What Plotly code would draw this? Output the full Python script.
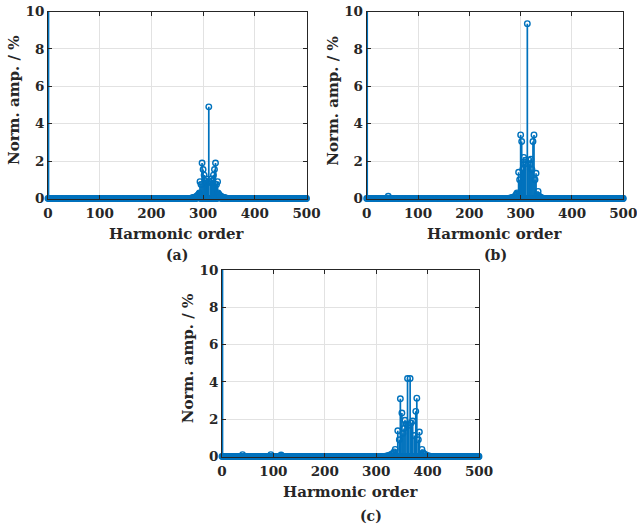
import plotly.graph_objects as go

# ---- spectrum data (harmonic order -> normalised amplitude, % of fundamental) ----
N_HARM = 500

a_orders = [1, 278, 280, 282, 284, 286, 288, 289, 290, 291, 292, 293,
            294, 296, 298, 300, 302, 304, 306, 308,
            311,
            314, 316, 318, 320, 322, 324, 326, 328,
            329, 330, 331, 332, 333, 334, 336, 338, 340, 342, 344]
a_amps = [100, 0.03, 0.04, 0.05, 0.07, 0.09, 0.12, 0.14, 0.17, 0.2, 0.24, 0.3,
          0.9, 0.75, 1.9, 1.55, 1.25, 0.95, 1.05, 0.85,
          4.9,
          0.85, 1.05, 0.95, 1.25, 1.55, 1.9, 0.75, 0.9,
          0.3, 0.24, 0.2, 0.17, 0.14, 0.12, 0.09, 0.07, 0.05, 0.04, 0.03]

b_orders = [1, 42, 280, 283, 286, 288, 290, 291, 292, 293,
            296, 298, 300, 302, 304, 306, 308, 310,
            313,
            316, 318, 320, 322, 324, 326, 328, 330,
            332, 334, 336, 338, 341]
b_amps = [100, 0.12, 0.03, 0.05, 0.07, 0.1, 0.14, 0.18, 0.24, 0.3,
          1.4, 1.0, 3.4, 3.05, 1.55, 2.2, 1.85, 2.05,
          9.35,
          2.05, 1.85, 2.1, 1.55, 3.05, 3.4, 1.0, 1.35,
          0.2, 0.38, 0.12, 0.08, 0.04]

c_orders = [1, 40, 95, 115, 320, 324, 327, 330, 333, 335,
            337, 342, 345, 347, 350, 352, 354, 356, 358,
            361, 363, 366,
            368, 371, 374, 377, 379, 382, 384, 389,
            391, 393, 396, 399, 403]
c_amps = [100, 0.1, 0.1, 0.08, 0.03, 0.05, 0.08, 0.12, 0.18, 0.25,
          0.38, 1.38, 0.9, 3.1, 2.33, 1.25, 1.5, 1.94, 1.75,
          4.18, 1.67, 4.18,
          1.8, 1.9, 1.13, 2.42, 3.13, 0.9, 1.31, 0.38,
          0.2, 0.15, 0.1, 0.06, 0.03]

x_ticks = [0, 100, 200, 300, 400, 500]
y_ticks = [0, 2, 4, 6, 8, 10]

X_LABEL = "Harmonic order"
Y_LABEL = "Norm. amp. / %"
PANEL_TAGS = ["(a)", "(b)", "(c)"]

# ---- styling ----
W, H = 637, 529
BLUE = "#0072BD"
AXIS_COL = "#262626"
GRID_COL = "#e2e2e2"
FONT = "DejaVu Serif"


def px_x(p):
    return p / W


def px_y(p):
    return 1 - p / H


def spectrum(orders, amps):
    y = [0.0] * (N_HARM + 1)
    for h, v in zip(orders, amps):
        y[h] = v
    return list(range(N_HARM + 1)), y


# plot-area boxes in pixels: left, right, top, bottom
boxes = [
    (48.0, 306.5, 11.5, 198.5),
    (366.7, 623.3, 11.5, 198.5),
    (222.0, 479.0, 270.0, 456.5),
]
series = [(a_orders, a_amps), (b_orders, b_amps), (c_orders, c_amps)]

fig = go.Figure()

for i, ((orders, amps), box) in enumerate(zip(series, boxes)):
    n = "" if i == 0 else str(i + 1)
    xr, yr = "x" + n, "y" + n
    hx, hy = spectrum(orders, amps)

    # stems
    sx, sy = [], []
    for h, v in zip(hx, hy):
        if v > 0:
            sx += [h, h, None]
            sy += [0, v, None]
    fig.add_trace(go.Scatter(x=sx, y=sy, mode="lines", xaxis=xr, yaxis=yr,
                             line=dict(color=BLUE, width=1.7),
                             showlegend=False, hoverinfo="skip"))
    # baseline
    fig.add_trace(go.Scatter(x=[0, N_HARM], y=[0, 0], mode="lines",
                             xaxis=xr, yaxis=yr,
                             line=dict(color=AXIS_COL, width=1),
                             showlegend=False, hoverinfo="skip"))
    # open-circle stem heads (only those inside the visible range)
    mx = [h for h, v in zip(hx, hy) if v <= 10]
    my = [v for v in hy if v <= 10]
    fig.add_trace(go.Scatter(x=mx, y=my, mode="markers", xaxis=xr, yaxis=yr,
                             cliponaxis=False,
                             marker=dict(symbol="circle-open", size=5.5,
                                         color=BLUE, line=dict(width=1.4)),
                             showlegend=False, hoverinfo="skip"))

    l, r, t, b = box
    axis_common = dict(
        automargin=False, ticklabeloverflow="allow",
        showline=True, linecolor=AXIS_COL, linewidth=1, mirror="ticks",
        ticks="inside", ticklen=4, tickcolor=AXIS_COL, tickwidth=1,
        showgrid=True, gridcolor=GRID_COL, gridwidth=1, zeroline=False,
        tickfont=dict(family=FONT, size=13.5, color=AXIS_COL, weight="bold"),
    )
    fig.layout["xaxis" + n] = dict(
        axis_common, domain=[px_x(l), px_x(r)], range=[0, N_HARM],
        tickvals=x_ticks, anchor=yr, ticklabelstandoff=2,
    )
    fig.layout["yaxis" + n] = dict(
        axis_common, domain=[px_y(b), px_y(t)], range=[0, 10],
        tickvals=y_ticks, anchor=xr,
    )

    cx = (l + r) / 2
    cy = (t + b) / 2
    fig.add_annotation(text=X_LABEL, xref="paper", yref="paper",
                       x=px_x(cx), y=px_y(b + 35), showarrow=False,
                       font=dict(family=FONT, size=15, color=AXIS_COL, weight="bold"),
                       xanchor="center", yanchor="middle")
    fig.add_annotation(text=Y_LABEL, xref="paper", yref="paper",
                       x=px_x(l - 34), y=px_y(cy - 4), showarrow=False, textangle=-90,
                       font=dict(family=FONT, size=15, color=AXIS_COL, weight="bold"),
                       xanchor="center", yanchor="middle")

tag_pos = [(177, 255), (495, 255), (371, 516)]
for tag, (tx, ty) in zip(PANEL_TAGS, tag_pos):
    fig.add_annotation(text=tag, xref="paper", yref="paper",
                       x=px_x(tx), y=px_y(ty), showarrow=False,
                       font=dict(family=FONT, size=14, color=AXIS_COL, weight="bold"),
                       xanchor="center", yanchor="middle")

fig.update_layout(
    width=W, height=H,
    margin=dict(l=0, r=0, t=0, b=0),
    paper_bgcolor="white", plot_bgcolor="white",
)

fig.write_html("out.html")
